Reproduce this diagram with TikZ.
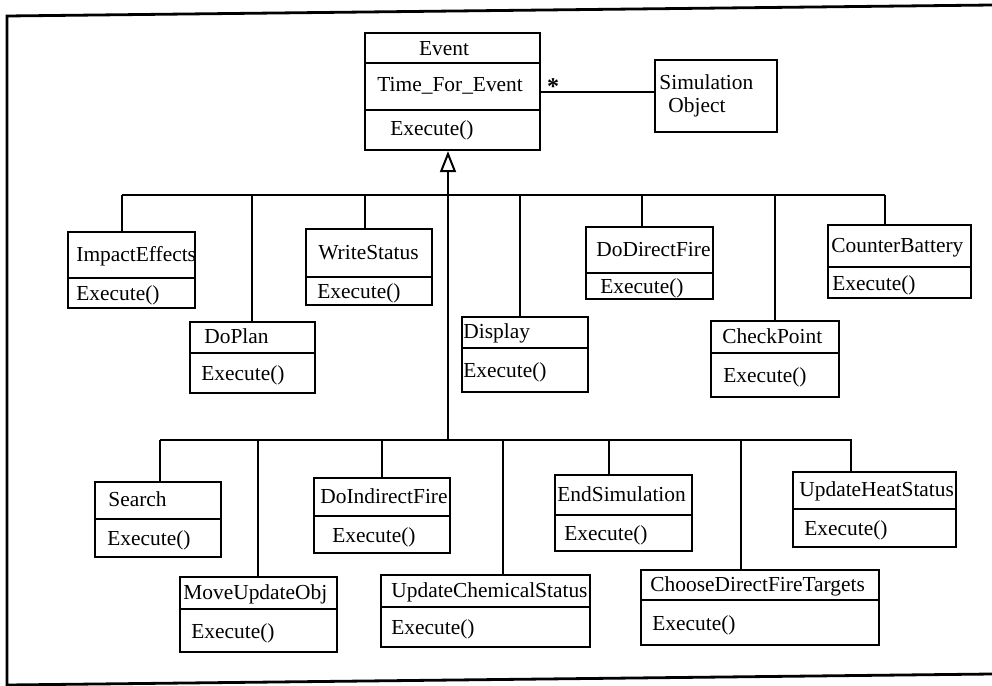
\documentclass[tikz,border=0pt]{standalone}
\usepackage{fontspec}
\setmainfont{Liberation Serif}
\usetikzlibrary{fit,arrows.meta}
\begin{document}
\begin{tikzpicture}[x=0.5pt,y=-0.5pt,
  cls/.style={draw,line width=1.1pt,inner sep=0pt,rectangle},
  divline/.style={line width=1pt},
  lbl/.style={inner sep=0pt,anchor=west,text height=0.7em,text depth=0.2em,
              font=\fontsize{10.7pt}{12pt}\selectfont},
  conn/.style={line width=1pt},
  frameline/.style={line width=1.4pt}]
\useasboundingbox (0,0) rectangle (992,686);
\draw[frameline] (992,5) -- (7,16) -- (7,685) -- (992,674);

% Event class
\node[cls, fit={(365,33) (540,150)}] (event) {};
\draw[divline] (365,63) -- (540,63);
\draw[divline] (365,110) -- (540,110);
\node[lbl, anchor=center] (event-t) at (444,50) {Event};
\node[lbl] (event-a) at (377,86) {Time\_For\_Event};
\node[lbl] (event-e) at (390,130) {Execute()};

% Simulation Object
\node[cls, fit={(655,60) (777,132)}] (simobj) {};
\node[lbl] (simobj-1) at (659,84) {Simulation};
\node[lbl] (simobj-2) at (668,107) {Object};
\draw[conn] (event.east) -- (event.east -| simobj.west);
\node[inner sep=0pt,font=\bfseries\fontsize{12pt}{12pt}\selectfont] (star) at (553,87) {*};

% subclasses
\foreach \nm/\l/\t/\r/\b/\d/\ti/\tx/\ex in {
  impact/68/232/195/308/278/ImpactEffects/76/76,
  doplan/190/322/315/393/353/DoPlan/204/201,
  write/306/229/432/305/277/WriteStatus/318/317,
  display/462/317/588/392/348/Display/463/463,
  direct/586/227/713/299/273/DoDirectFire/596/600,
  check/711/321/839/397/353/CheckPoint/722/723,
  counter/828/225/971/298/267/CounterBattery/831/832,
  search/95/482/221/557/519/Search/108/107,
  move/180/577/337/652/609/MoveUpdateObj/183/191,
  indirect/314/478/450/553/516/DoIndirectFire/320/332,
  chem/381/575/590/647/607/UpdateChemicalStatus/391/391,
  endsim/555/475/692/551/515/EndSimulation/557/564,
  choose/641/570/879/645/600/ChooseDirectFireTargets/650/652,
  heat/793/472/956/547/509/UpdateHeatStatus/799/804}{
  \node[cls, fit={(\l,\t) (\r,\b)}] (\nm) {};
  \draw[divline] (\l,\d) -- (\r,\d);
  \node[lbl] (\nm-t) at (\tx,{(\t+\d)/2+1}) {\ti};
  \node[lbl] (\nm-e) at (\ex,{(\d+\b)/2+2.5}) {Execute()};
}

% buses
\coordinate (bus1L) at (122,195);
\coordinate (bus1R) at (885,195);
\coordinate (bus2L) at (160,440);
\coordinate (bus2R) at (852,440);
\draw[conn] (bus1L) -- (bus1R);
\draw[conn] (bus2L) -- (bus2R);

% trunk with inheritance triangle
\coordinate (trunk) at (448,440);
\draw[conn,-{Triangle[open,length=10.5pt,width=8pt,line width=1pt]}] (trunk) -- (trunk |- event.south);

% drops
\foreach \nm/\x/\y in {impact/122/195, doplan/252/195, write/365/195, display/520/195,
  direct/642/195, check/775/195, counter/885/195,
  search/160/440, move/258/440, indirect/382/440, chem/503/440,
  endsim/609/440, choose/741/440, heat/851/440}{
  \coordinate (d-\nm) at (\x,\y);
  \draw[conn] (d-\nm) -- (d-\nm |- \nm.north);
}
\end{tikzpicture}
\end{document}
